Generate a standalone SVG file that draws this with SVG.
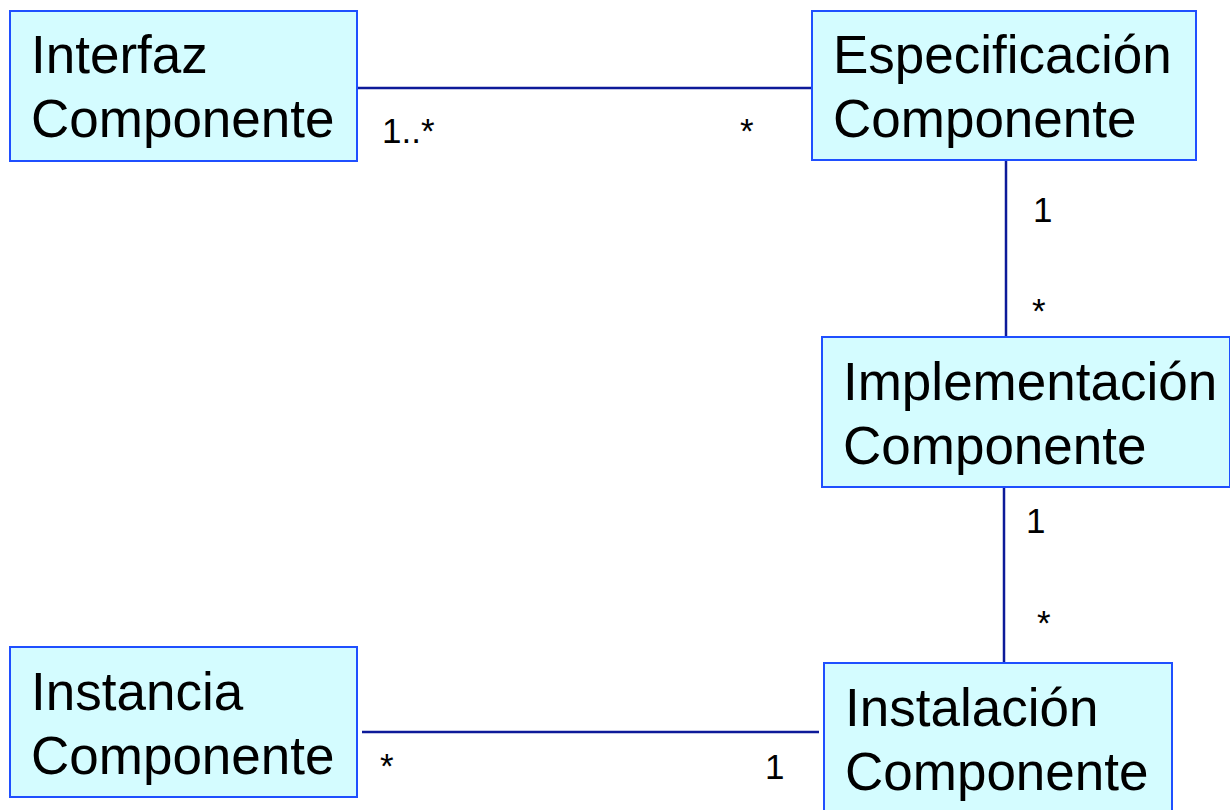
<svg xmlns="http://www.w3.org/2000/svg" width="1230" height="810" viewBox="0 0 1230 810">
<style>
.box{fill:#d4fcff;stroke:#1f4fff;stroke-width:2}
.name{font-family:"Liberation Sans",Arial,sans-serif;font-size:53px;fill:#000}
.mult{font-family:"Liberation Sans",Arial,sans-serif;font-size:35px;fill:#000}
.conn{stroke:#0d1a99;stroke-width:2.5;fill:none}
</style>
<rect width="1230" height="810" fill="#fff"/>
<g id="connectors">
<line class="conn" x1="357" y1="88" x2="812" y2="88"/>
<line class="conn" x1="1006" y1="160" x2="1006" y2="337"/>
<line class="conn" x1="1004" y1="487" x2="1004" y2="663"/>
<line class="conn" x1="362" y1="732" x2="819" y2="732"/>
<text class="mult" x="382" y="143">1..*</text>
<text class="mult" x="740" y="143">*</text>
<text class="mult" x="1033" y="222">1</text>
<text class="mult" x="1032" y="323">*</text>
<text class="mult" x="1026" y="533">1</text>
<text class="mult" x="1037" y="635">*</text>
<text class="mult" x="380" y="778">*</text>
<text class="mult" x="765" y="779">1</text>
</g>
<g id="interfaz">
<rect class="box" x="10" y="11" width="347" height="150"/>
<text class="name" x="31" y="73">Interfaz</text>
<text class="name" x="31" y="137">Componente</text>
</g>
<g id="especificacion">
<rect class="box" x="812" y="11" width="384" height="149"/>
<text class="name" x="833" y="73">Especificación</text>
<text class="name" x="833" y="137">Componente</text>
</g>
<g id="implementacion">
<rect class="box" x="822" y="337" width="408" height="150"/>
<text class="name" x="843" y="400">Implementación</text>
<text class="name" x="843" y="464">Componente</text>
</g>
<g id="instancia">
<rect class="box" x="10" y="647" width="347" height="150"/>
<text class="name" x="31" y="710">Instancia</text>
<text class="name" x="31" y="774">Componente</text>
</g>
<g id="instalacion">
<rect class="box" x="824" y="663" width="348" height="160"/>
<text class="name" x="845" y="726">Instalación</text>
<text class="name" x="845" y="790">Componente</text>
</g>
</svg>
